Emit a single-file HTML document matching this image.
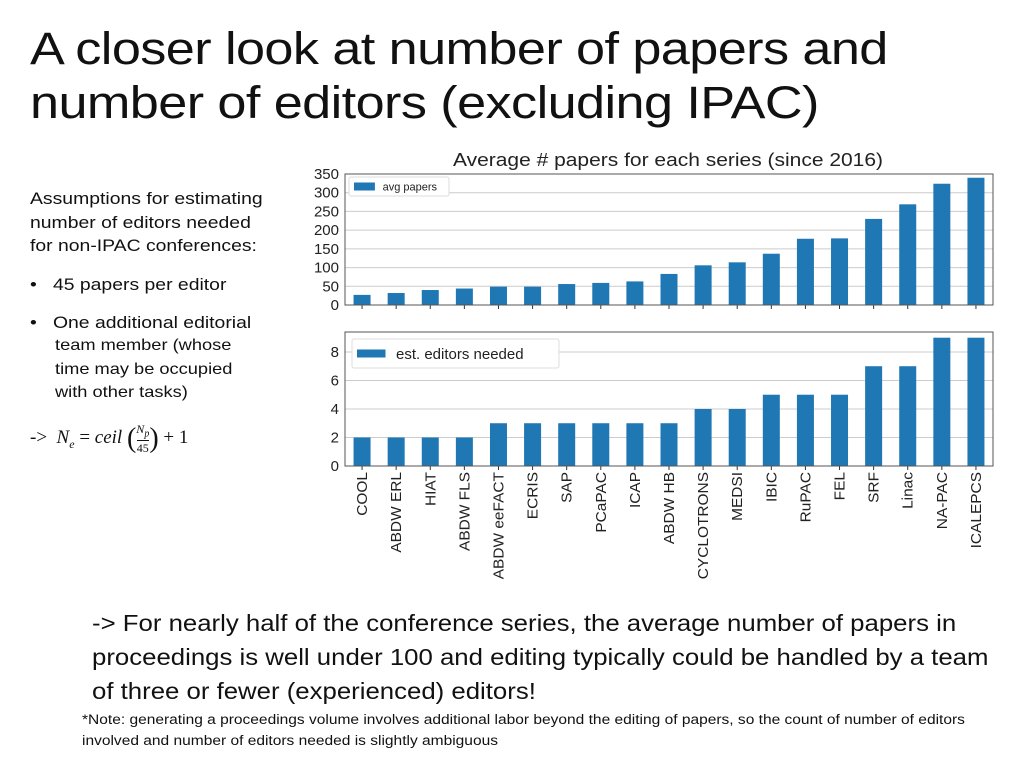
<!DOCTYPE html>
<html><head><meta charset="utf-8"><style>
body{margin:0;width:1024px;height:768px;background:#fff;font-family:"Liberation Sans","DejaVu Sans",sans-serif;position:relative;overflow:hidden;color:#111}
.abs{position:absolute;transform-origin:0 0;white-space:nowrap}
h1{position:absolute;left:30px;top:22px;margin:0;font-weight:normal;font-size:45px;line-height:54px;letter-spacing:-0.5px;transform-origin:0 0;transform:scaleX(1.16);white-space:nowrap}
.side{font-size:17px;line-height:23.5px;transform:scaleX(1.14)}
</style></head><body>
<h1>A closer look at number of papers and<br>number of editors (excluding IPAC)</h1>
<div class="abs side" style="left:30px;top:187px">Assumptions for estimating<br>number of editors needed<br>for non-IPAC conferences:</div>
<div class="abs side" style="left:30px;top:273px">•&nbsp;&nbsp;&nbsp;45 papers per editor</div>
<div class="abs side" style="left:30px;top:311px">•&nbsp;&nbsp;&nbsp;One additional editorial</div>
<div class="abs side" style="left:55px;top:334px;font-size:16px">team member (whose<br>time may be occupied<br>with other tasks)</div>
<div class="abs" style="left:30px;top:422px;font-size:19px;font-family:'Liberation Serif',serif">-&gt;&nbsp;&nbsp;<i>N<sub style="font-size:12px">e</sub></i> = <i>ceil</i> <span style="font-size:28px;vertical-align:-4px">(</span><span style="display:inline-block;vertical-align:middle;text-align:center;font-size:12px;line-height:14px"><i>N<sub>p</sub></i><br><span style="border-top:1px solid #111">45</span></span><span style="font-size:28px;vertical-align:-4px">)</span> + 1</div>
<svg class="abs" style="left:0;top:0" width="1024" height="600" id="chart"></svg>
<div class="abs" style="left:92px;top:606px;font-size:23px;line-height:34px;transform:scaleX(1.12)">-&gt; For nearly half of the conference series, the average number of papers in<br>proceedings is well under 100 and editing typically could be handled by a team<br>of three or fewer (experienced) editors!</div>
<div class="abs" style="left:82px;top:709px;font-size:13.5px;line-height:21px;transform:scaleX(1.15)">*Note: generating a proceedings volume involves additional labor beyond the editing of papers, so the count of number of editors<br>involved and number of editors needed is slightly ambiguous</div>
<script>
const categories=["COOL","ABDW ERL","HIAT","ABDW FLS","ABDW eeFACT","ECRIS","SAP","PCaPAC","ICAP","ABDW HB","CYCLOTRONS","MEDSI","IBIC","RuPAC","FEL","SRF","Linac","NA-PAC","ICALEPCS"];
const papers=[27,32,40,44,49,49,56,59,63,83,106,114,137,177,178,230,269,324,340];
const editors=[2,2,2,2,3,3,3,3,3,3,4,4,5,5,5,7,7,9,9];
const paperTicks=[0,50,100,150,200,250,300,350];
const editorTicks=[0,2,4,6,8];
const svg=document.getElementById('chart');
const NS='http://www.w3.org/2000/svg';
function mk(t,a,p){const e=document.createElementNS(NS,t);for(const k in a)e.setAttribute(k,a[k]);(p||svg).appendChild(e);return e;}
const X0=345,X1=993;
const step=(X1-X0)/categories.length;
function xc(i){return X0+step*(i+0.5);}
function drawPanel(vals,ticks,top,bottom,vmax,name,legend,lx,ly,lw,lh,lfs){
  const y=v=>bottom-(v/vmax)*(bottom-top);
  const g=mk('g',{});
  
  
  ticks.forEach(t=>{
    const l=mk('line',{x1:X0,x2:X1,y1:y(t),y2:y(t),stroke:'#ccc','stroke-width':1},g);
    
    
    const tx=mk('text',{x:X0-6,y:y(t)+5,'text-anchor':'end','font-size':15,fill:'#222'},g);
    tx.textContent=t;
    
    
  });
  vals.forEach((v,i)=>{
    const r=mk('rect',{x:xc(i)-8.5,y:y(v),width:17,height:bottom-y(v),fill:'#1f77b4'},g);
    
    
    mk('line',{x1:xc(i),x2:xc(i),y1:bottom,y2:bottom+4,stroke:'#333'},g);
  });
  mk('rect',{x:X0,y:top,width:X1-X0,height:bottom-top,fill:'none',stroke:'#555','stroke-width':1},g);
  const lg=mk('g',{},g);
  
  
  mk('rect',{x:lx,y:ly,width:lw,height:lh,fill:'#fff',stroke:'#ddd',rx:2},lg);
  mk('rect',{x:lx+5,y:ly+lh/2-4,width:lfs*1.9,height:8,fill:'#1f77b4'},lg);
  const lt=mk('text',{x:lx+lfs*2.6+5,y:ly+lh/2+lfs*0.35,'font-size':lfs,fill:'#222'},lg);
  lt.textContent=legend;
}
const t=mk('text',{x:453,y:166,'font-size':18,fill:'#222',textLength:430,lengthAdjust:'spacingAndGlyphs'});
t.textContent='Average # papers for each series (since 2016)';


drawPanel(papers,paperTicks,174,305,350,'papers-chart','avg papers',349,177,100,19,11);
drawPanel(editors,editorTicks,332,466,9.4,'editors-chart','est. editors needed',352,339,207,29,15);
categories.forEach((c,i)=>{
  const tx=mk('text',{transform:`translate(${xc(i)+5},472) rotate(-90) scale(1.03,1)`,'text-anchor':'end','font-size':15,fill:'#222'});
  tx.textContent=c;
  
  
});
</script>
</body></html>
